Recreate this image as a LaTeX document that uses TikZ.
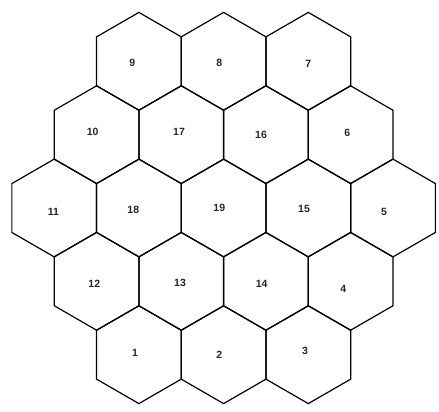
\documentclass[tikz,border=0pt]{standalone}
\usepackage{fontspec}
\setmainfont{Liberation Sans}
\begin{document}
\begin{tikzpicture}[x=1pt,y=-1pt,
  hexline/.style={draw=black,line width=1.2pt,line join=miter},
  hexlabel/.style={font=\fontsize{10.5}{12}\selectfont\bfseries,text=black!85,inner sep=0pt}]
\useasboundingbox (0,0) rectangle (439,412);
\def\hR{48.9}
\def\hH{24.45}
\def\hW{42.35}
\foreach \cx/\cy/\lx/\ly/\t in {
  138.9/61.3/132.3/63.3/9, 223.6/61.3/219.3/63.3/8, 308.3/61.3/308.3/64/7,
  96.6/134.7/92.7/131.7/10, 181.3/134.7/179/131.7/17, 265.9/134.7/261/135/16, 350.6/134.7/347.3/132.7/6,
  54.2/208/53.3/211.7/11, 138.9/208/133.3/210/18, 223.6/208/219.3/208.3/19, 308.3/208/304/209.3/15, 393.0/208/384/211.7/5,
  96.6/281.3/94.3/284.3/12, 181.3/281.3/180/282.7/13, 265.9/281.3/261.7/284.3/14, 350.6/281.3/343.3/289/4,
  138.9/354.7/135/353.3/1, 223.6/354.7/219.3/355/2, 308.3/354.7/305/351/3}{
  \draw[hexline] (\cx,\cy-\hR) -- (\cx+\hW,\cy-\hH) -- (\cx+\hW,\cy+\hH) -- (\cx,\cy+\hR)
     -- (\cx-\hW,\cy+\hH) -- (\cx-\hW,\cy-\hH) -- cycle;
  \node[hexlabel] (lab\t) at (\lx,\ly) {\t};
}
\end{tikzpicture}
\end{document}
